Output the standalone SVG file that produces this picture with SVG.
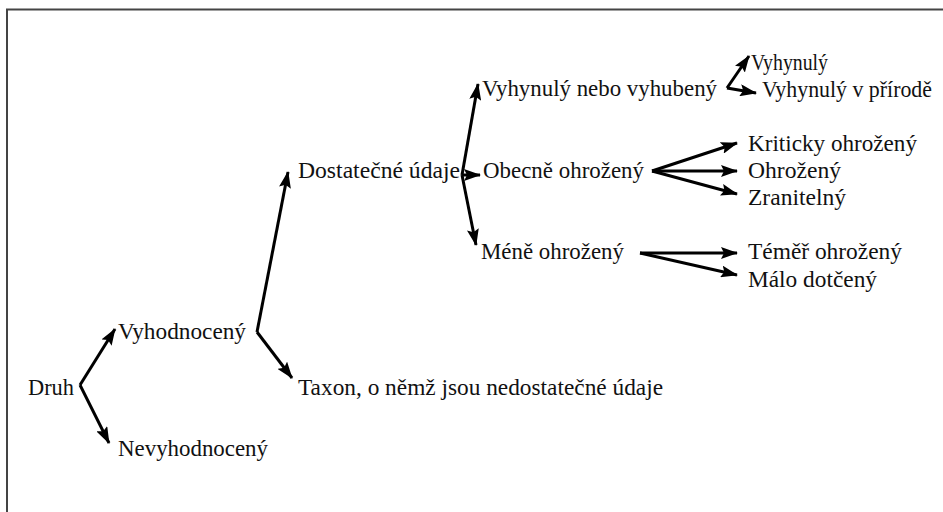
<svg xmlns="http://www.w3.org/2000/svg" width="943" height="512" viewBox="0 0 943 512">
<style>
text{font-family:"Liberation Serif","Times New Roman",serif;font-size:23px;fill:#111}
.c path{fill:none;stroke:#000;stroke-width:3;marker-end:url(#ah)}
</style>
<defs>
<marker id="ah" markerUnits="userSpaceOnUse" markerWidth="18" markerHeight="12" refX="16" refY="6" orient="auto">
<path d="M0,0 L17,6 L0,12 L3,6 z" fill="#000"/>
</marker>
</defs>
<rect width="943" height="512" fill="#fff"/>
<path d="M7,512 V9.5 H943" fill="none" stroke="#444" stroke-width="2"/>
<g class="c" id="connectors">
<path d="M80,385 L115,329"/>
<path d="M80,385 L109,443"/>
<path d="M257,332 L288,172"/>
<path d="M257,332 L292,378"/>
<path d="M462,175 L478,84"/>
<path d="M462,175 L480,175"/>
<path d="M462,175 L476,245"/>
<path d="M727,88 L749,56"/>
<path d="M727,88 L756,93"/>
<path d="M652,171 L737,143"/>
<path d="M652,171 L737,171"/>
<path d="M652,171 L737,194"/>
<path d="M640,253 L737,253"/>
<path d="M640,253 L737,275"/>
</g>
<g id="druh"><text x="28" y="395" textLength="46" lengthAdjust="spacingAndGlyphs">Druh</text></g>
<g id="vyhodnoceny"><text x="118" y="339" textLength="128" lengthAdjust="spacingAndGlyphs">Vyhodnocený</text></g>
<g id="nevyhodnoceny"><text x="118" y="456" textLength="150" lengthAdjust="spacingAndGlyphs">Nevyhodnocený</text></g>
<g id="taxon"><text x="298" y="395" textLength="365" lengthAdjust="spacingAndGlyphs">Taxon, o němž jsou nedostatečné údaje</text></g>
<g id="dostatecne"><text x="298" y="178" textLength="162" lengthAdjust="spacingAndGlyphs">Dostatečné údaje</text></g>
<g id="vyhynuly-nebo"><text x="482" y="96" textLength="235" lengthAdjust="spacingAndGlyphs">Vyhynulý nebo vyhubený</text></g>
<g id="obecne"><text x="483" y="178" textLength="161" lengthAdjust="spacingAndGlyphs">Obecně ohrožený</text></g>
<g id="mene"><text x="481" y="259" textLength="143" lengthAdjust="spacingAndGlyphs">Méně ohrožený</text></g>
<g id="vyhynuly"><text x="751" y="70" textLength="77" lengthAdjust="spacingAndGlyphs">Vyhynulý</text></g>
<g id="vyhynuly-prirode"><text x="762" y="97" textLength="170" lengthAdjust="spacingAndGlyphs">Vyhynulý v přírodě</text></g>
<g id="kriticky"><text x="748" y="151" textLength="169" lengthAdjust="spacingAndGlyphs">Kriticky ohrožený</text></g>
<g id="ohrozeny"><text x="748" y="178" textLength="93" lengthAdjust="spacingAndGlyphs">Ohrožený</text></g>
<g id="zranitelny"><text x="748" y="205" textLength="98" lengthAdjust="spacingAndGlyphs">Zranitelný</text></g>
<g id="temer"><text x="748" y="259" textLength="154" lengthAdjust="spacingAndGlyphs">Téměř ohrožený</text></g>
<g id="malo"><text x="748" y="287" textLength="129" lengthAdjust="spacingAndGlyphs">Málo dotčený</text></g>
</svg>
